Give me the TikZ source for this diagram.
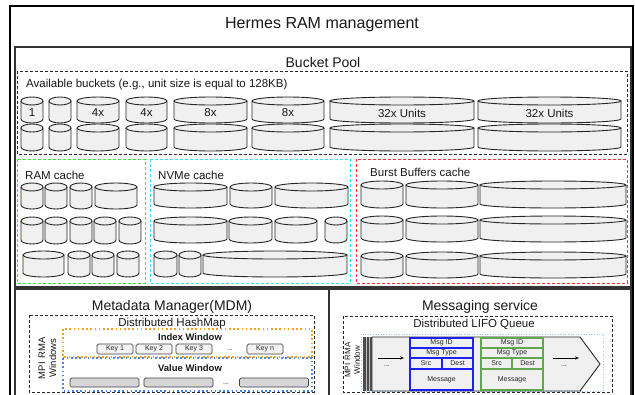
\documentclass[tikz,border=0pt]{standalone}
\usepackage{fontspec}
\setmainfont{Liberation Sans}
\usetikzlibrary{arrows.meta}

\definecolor{cylgray}{HTML}{F0F0F0}
\definecolor{cyledge}{HTML}{262626}
\definecolor{ramgreen}{HTML}{33EE33}
\definecolor{nvmecyan}{HTML}{33E0FF}
\definecolor{bbred}{HTML}{FF3333}
\definecolor{idxorange}{HTML}{F5A31E}
\definecolor{valblue}{HTML}{4A86E8}
\definecolor{qblue}{HTML}{9FC5F8}
\definecolor{msgblue}{HTML}{2020F0}
\definecolor{msggreen}{HTML}{5FA84E}
\definecolor{keygray}{HTML}{F2F2F2}
\definecolor{valgray}{HTML}{D6D6D6}

\tikzset{
  frame/.style={draw=black, line width=1.4pt},
  panel/.style={draw=black!80, line width=1.2pt},
  blackdash/.style={draw=black!85, line width=0.8pt, dash pattern=on 3pt off 2pt},
  cachebox/.style={line width=0.9pt, dash pattern=on 3pt off 2pt},
  dotbox/.style={line width=1.6pt, dash pattern=on 1.6pt off 2.6pt},
  cylfill/.style={fill=cylgray},
  cylline/.style={draw=cyledge, line width=0.9pt},
  txt/.style={inner sep=0pt, text=black!90},
  bigtitle/.style={txt, font=\fontsize{16}{19}\selectfont},
  paneltitle/.style={txt, font=\fontsize{14}{17}\selectfont},
  midtxt/.style={txt, font=\fontsize{11.5}{14}\selectfont},
  boldtxt/.style={txt, font=\fontsize{9.5}{11}\selectfont\bfseries},
  tinytxt/.style={inner sep=0pt, font=\fontsize{7}{8}\selectfont, text=black!85},
  keybox/.style={tinytxt, draw=black!75, fill=keygray, rounded corners=1.5pt,
    line width=0.7pt, minimum width=36pt, minimum height=10pt},
  valbox/.style={draw=black!75, fill=valgray, rounded corners=1.5pt,
    line width=0.7pt, minimum width=69pt, minimum height=9pt, inner sep=0pt},
  cell/.style={tinytxt, line width=1.1pt, minimum height=10pt},
  flow/.style={draw=black, line width=0.8pt, -{Stealth[length=4pt,width=3.2pt]}},
}

% a standing bucket: left x, top y, right x, bottom y (y grows downwards)
\newcommand{\bucket}[4]{%
  \pgfmathsetmacro\bcx{(#1+#3)/2}%
  \pgfmathsetmacro\brx{(#3-#1)/2}%
  \fill[cylfill] (#1,#2+4) -- (#1,#4-4)
    arc[start angle=180,end angle=0,x radius=\brx,y radius=4] -- (#3,#2+4) -- cycle;
  \draw[cylline] (#1,#2+4) -- (#1,#4-4)
    arc[start angle=180,end angle=0,x radius=\brx,y radius=4] -- (#3,#2+4);
  \draw[cylline,cylfill] (\bcx,#2+4) ellipse[x radius=\brx,y radius=4];
}

\begin{document}
\begin{tikzpicture}[x=1pt,y=-1pt]
\useasboundingbox (0,0) rectangle (635,394);
\fill[white] (0,0) rectangle (635,394);
\clip (0,0) rectangle (635,394);

% frames
\draw[frame] (10,6) rectangle (633,412);
\node[bigtitle, anchor=base] (title) at (322,28) {Hermes RAM management};
\draw[panel] (15,47) rectangle (631,287);
\draw[panel] (15,289) rectangle (329,412);
\draw[panel] (329,289) rectangle (631,412);

% ---------- bucket pool ----------
\node[paneltitle, anchor=base] (pool) at (323,67) {Bucket Pool};
\draw[blackdash] (17,71) rectangle (627,154);
\node[midtxt, anchor=west] (avail) at (26,85) {Available buckets (e.g., unit size is equal to 128KB)};

\foreach \a/\b in {21/43,49/71,77/119,126/167,174/247,252/324,330/474,478/621} {
  \bucket{\a}{97}{\b}{123}
  \bucket{\a}{124}{\b}{151}
}
\node[midtxt] (u1)  at (32,113)  {1};
\node[midtxt] (u4a) at (98,113)  {4x};
\node[midtxt] (u4b) at (146.5,113) {4x};
\node[midtxt] (u8a) at (210.5,113) {8x};
\node[midtxt] (u8b) at (288,113) {8x};
\node[midtxt] (u32a) at (402,113) {32x Units};
\node[midtxt] (u32b) at (549.5,113) {32x Units};

% ---------- caches ----------
\draw[cachebox, draw=ramgreen] (17,159) rectangle (145,283);
\draw[cachebox, draw=nvmecyan] (150,159) rectangle (350,283);
\draw[cachebox, draw=bbred] (356,159) rectangle (627,283);
\node[midtxt, anchor=west] (ram) at (25,175) {RAM cache};
\node[midtxt, anchor=west] (nvme) at (158,175) {NVMe cache};
\node[midtxt, anchor=west] (bb) at (370,172) {Burst Buffers cache};

% RAM cache
\foreach \a/\b in {21/43,45/67,70/92,95/137} {\bucket{\a}{183}{\b}{209}}
\foreach \a/\b in {21/43,45/67,70/92,94/116,119/141} {\bucket{\a}{217}{\b}{244}}
\foreach \a/\b in {23/64,68/90,92/114,117/139} {\bucket{\a}{251}{\b}{277}}

% NVMe cache
\foreach \a/\b in {154/227,230/272,275/348} {\bucket{\a}{183}{\b}{208}}
\foreach \a/\b in {154/227,229/272,275/317,325/347} {\bucket{\a}{217}{\b}{243}}
\foreach \a/\b in {154/177,179/201,203/347} {\bucket{\a}{251}{\b}{277}}

% Burst buffers cache
\foreach \a/\b in {361/403,406/478,480/626} {
  \bucket{\a}{181}{\b}{208}
  \bucket{\a}{216}{\b}{242}
  \bucket{\a}{252}{\b}{278}
}

% ---------- metadata manager ----------
\node[paneltitle, anchor=base] (mdm) at (172,310) {Metadata Manager(MDM)};
\draw[blackdash] (29,315) rectangle (314,392);
\node[midtxt, anchor=base] (hmap) at (172,326) {Distributed HashMap};
\node[txt, rotate=90, align=center, font=\fontsize{9.5}{11}\selectfont]
  (rma) at (47.5,358) {MPI\, RMA\\Windows};

\draw[dotbox, draw=idxorange] (63,329) rectangle (312,357);
\node[boldtxt] (idx) at (190,337) {Index Window};
\node[keybox] (k1) at (115,349) {Key 1};
\node[keybox] (k2) at (154,349) {Key 2};
\node[keybox] (k3) at (194,349) {Key 3};
\node[tinytxt] (kd) at (230,350) {...};
\node[keybox] (kn) at (265,349) {Key n};

\draw[dotbox, draw=valblue] (63,358) rectangle (312,391);
\node[boldtxt] (val) at (190,368) {Value Window};
\node[valbox] (v1) at (104.5,382.5) {};
\node[valbox] (v2) at (178.5,382.5) {};
\node[tinytxt] (vd) at (226,384) {...};
\node[valbox] (vn) at (274,382.5) {};

% ---------- messaging service ----------
\node[paneltitle, anchor=base] (msg) at (480,310) {Messaging service};
\draw[blackdash] (343,316) rectangle (612,392);
\node[midtxt, anchor=base] (lifo) at (474,327) {Distributed LIFO Queue};
\node[txt, rotate=90, align=center, font=\fontsize{8}{9.5}\selectfont]
  (rmaw) at (352.5,360) {MPI\, RMA\\Window};
\draw[draw=qblue, line width=0.8pt, dash pattern=on 1pt off 1.6pt] (361,334) rectangle (603,391);

% queue body
\draw[cyledge, fill=cylgray, line width=0.9pt]
  (372,337) -- (580,337) -- (600,364) -- (580,391) -- (372,391) -- cycle;
\fill[black!70] (363,337) rectangle (372,391);
\draw[white!75!black, line width=0.6pt] (366,337) -- (366,391) (369,337) -- (369,391);

% first message (blue)
\node[cell, draw=msgblue, minimum width=63pt] (bid) at (441.5,343) {Msg ID};
\node[cell, draw=msgblue, minimum width=63pt] (btype) at (441.5,353) {Msg Type};
\node[cell, draw=msgblue, minimum width=32pt, minimum height=11pt] (bsrc) at (426,363.5) {Src};
\node[cell, draw=msgblue, minimum width=31pt, minimum height=11pt] (bdst) at (457.5,363.5) {Dest};
\node[cell, draw=msgblue, minimum width=63pt, minimum height=21pt] (bmsg) at (441.5,379.5) {Message};

% second message (green)
\node[cell, draw=msggreen, minimum width=62pt] (gid) at (512,343) {Msg ID};
\node[cell, draw=msggreen, minimum width=62pt] (gtype) at (512,353) {Msg Type};
\node[cell, draw=msggreen, minimum width=31pt, minimum height=11pt] (gsrc) at (496.5,363.5) {Src};
\node[cell, draw=msggreen, minimum width=31pt, minimum height=11pt] (gdst) at (527.5,363.5) {Dest};
\node[cell, draw=msggreen, minimum width=62pt, minimum height=21pt] (gmsg) at (512,379.5) {Message};

% flow arrows
\coordinate (la) at (378,358);
\coordinate (lb) at (404,358);
\coordinate (ra) at (553,358);
\coordinate (rb) at (579,358);
\draw[flow] (la) -- (lb);
\draw[flow] (ra) -- (rb);
\node[tinytxt] (ld) at (387,366) {...};
\node[tinytxt] (rd) at (564,366) {...};

\end{tikzpicture}
\end{document}
